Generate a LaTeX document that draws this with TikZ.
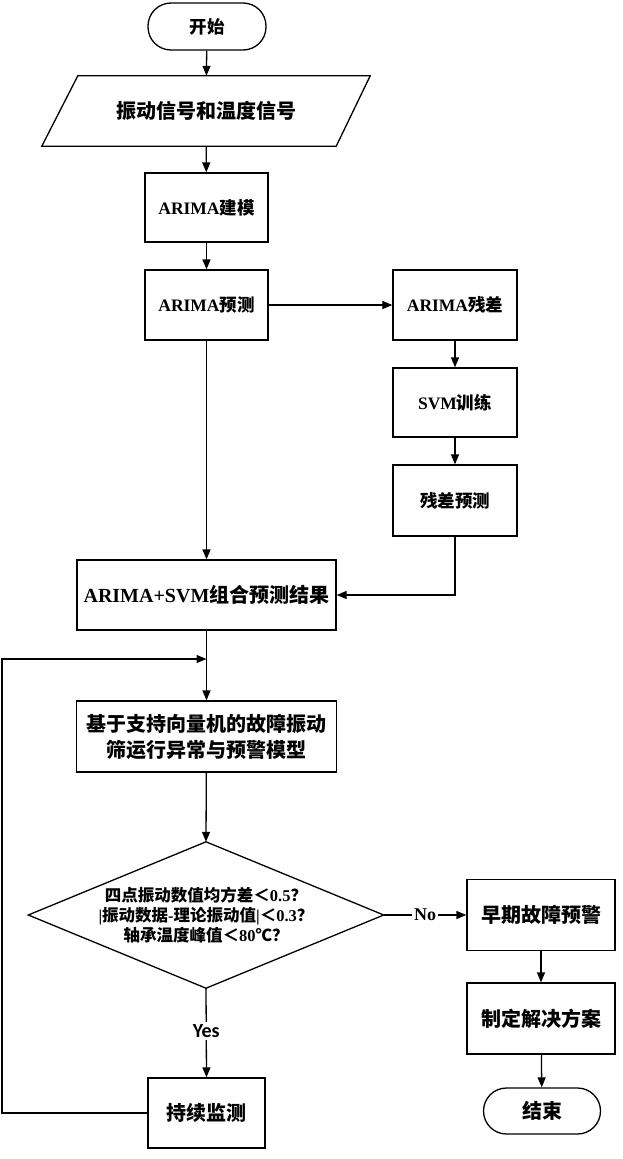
\documentclass[tikz,border=0pt]{standalone}
\usepackage{fontspec}
\setmainfont{Liberation Serif}
\newfontfamily\cjk{Noto Sans CJK SC}
\newfontfamily\enfont{Liberation Serif}
\newfontfamily\lblfont{Carlito}
\newcommand\en[1]{{\enfont\bfseries #1}}
\usetikzlibrary{arrows.meta}

\tikzset{
  base/.style={inner sep=0pt, align=center, font=\cjk\bfseries\fontsize{17.5}{20}\selectfont},
  box/.style={base, draw, line width=1.3pt},
  term/.style={box, rounded corners=23pt},
  big/.style={font=\cjk\bfseries\fontsize{20}{26}\selectfont},
  arr/.style={line width=1.3pt, -{Triangle[length=10pt,width=8pt]}},
  lbl/.style={base, fill=white, inner sep=2pt}
}

\begin{document}
\begin{tikzpicture}[x=1pt, y=-1pt]
  \useasboundingbox (0,0) rectangle (622,1159);

  % main column
  \node[term, minimum width=118, minimum height=47] (start) at (207,26.5) {开始};
  \node[base, big, minimum width=328, minimum height=70] (sig) at (206,111) {振动信号和温度信号};
  \draw[line width=1.3pt] ([xshift=36pt]sig.north west) -- (sig.north east)
        -- ([xshift=-34pt]sig.south east) -- (sig.south west) -- cycle;
  \node[box, minimum width=123, minimum height=69] (model) at (206.5,207.5) {\en{ARIMA}建模};
  \node[box, minimum width=123, minimum height=70] (pred) at (206.5,305) {\en{ARIMA}预测};

  % residual branch
  \node[box, minimum width=124, minimum height=70] (resid) at (455,305) {\en{ARIMA}残差};
  \node[box, minimum width=124, minimum height=69] (svm) at (455,402.5) {\en{SVM}训练};
  \node[box, minimum width=124, minimum height=71] (rpred) at (455,500.5) {残差预测};

  % combination and model
  \node[box, big, minimum width=259, minimum height=70] (comb) at (206.5,595) {\en{ARIMA+SVM}组合预测结果};
  \node[box, big, minimum width=260, minimum height=71] (svmm) at (206.5,736.5)
        {基于支持向量机的故障振动\\筛运行异常与预警模型};

  % decision
  \node[base, minimum width=355, minimum height=146, font=\cjk\bfseries\fontsize{16.5}{20}\selectfont] (dec) at (206,915)
        {四点振动数值均方差＜\en{0.5}？\\\en{|}振动数据\en{-}理论振动值\en{|}＜\en{0.3}？\\轴承温度峰值＜\en{80}℃？};
  \draw[line width=1.3pt] (dec.west) -- (dec.north) -- (dec.east) -- (dec.south) -- cycle;

  \node[box, big, minimum width=148, minimum height=71] (warn) at (541,915) {早期故障预警};
  \node[box, big, minimum width=148, minimum height=71] (plan) at (541,1018.5) {制定解决方案};
  \node[term, big, minimum width=117, minimum height=46] (end) at (542,1111) {结束};
  \node[box, big, minimum width=117, minimum height=70] (mon) at (206.5,1113) {持续监测};

  \coordinate (lx) at (2,659);
  \coordinate (join) at (206.5,659);

  % connectors
  \draw[arr] (start) -- (sig);
  \draw[arr] (sig) -- (model);
  \draw[arr] (model) -- (pred);
  \draw[arr] (pred) -- (resid);
  \draw[arr] (resid) -- (svm);
  \draw[arr] (svm) -- (rpred);
  \draw[arr] (pred) -- (comb);
  \draw[arr] (rpred.south) |- (comb.east);
  \draw[line width=1.3pt] (comb.south) -- (join);
  \draw[arr] (join) -- (svmm.north);
  \draw[arr] (svmm) -- (dec.north);
  \draw[arr] (dec.east) -- node[lbl, font=\enfont\bfseries\fontsize{18}{20}\selectfont] {No} (warn.west);
  \draw[arr] (warn) -- (plan);
  \draw[arr] (plan) -- (end);
  \draw[arr] (dec.south) -- node[lbl, pos=0.48, font=\lblfont\bfseries\fontsize{20}{22}\selectfont] {Yes} (mon.north);
  \draw[arr] (mon.west) -| (lx) -- (join);
\end{tikzpicture}
\end{document}
